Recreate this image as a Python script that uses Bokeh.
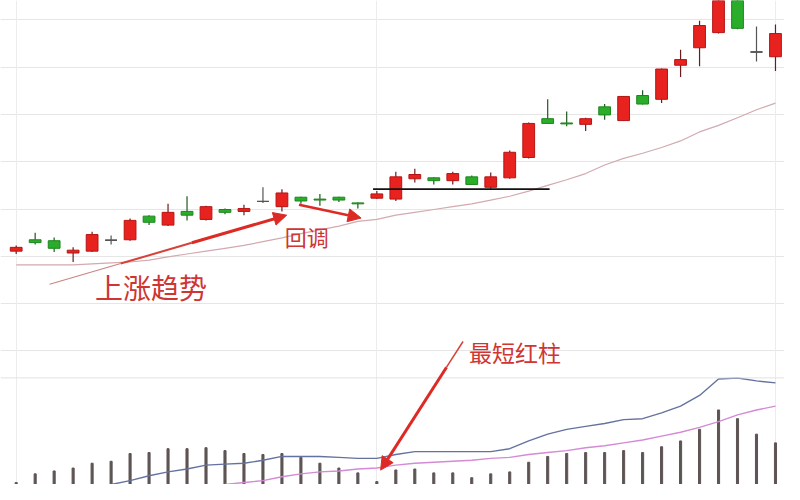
from bokeh.plotting import figure
from bokeh.models import Range1d, Grid, FixedTicker, Span, Arrow, NormalHead, ColumnDataSource, Label
from bokeh.embed import file_html
from bokeh.resources import INLINE

# ---------------- data ----------------
day = list(range(41))
opens = [5.11, 5.35, 5.33, 5.07, 5.11, 5.34, 5.35, 5.85, 5.66, 5.95,
         5.78, 5.99, 5.95, 6.16, 6.05, 6.25, 6.21, 6.25, 6.13, 6.23,
         6.21, 6.64, 6.66, 6.60, 6.68, 6.46, 6.66, 7.09, 7.91, 7.82,
         7.79, 8.16, 7.87, 8.40, 8.32, 9.04, 9.41, 9.73, 10.92, 9.32, 9.22]
highs = [5.23, 5.50, 5.40, 5.19, 5.52, 5.44, 5.80, 5.87, 6.11, 6.27,
         6.07, 6.01, 6.09, 6.46, 6.42, 6.26, 6.32, 6.26, 6.14, 6.38,
         6.79, 6.85, 6.67, 6.79, 6.71, 6.77, 7.24, 7.83, 8.32, 8.06,
         7.93, 8.22, 8.39, 8.51, 8.97, 9.37, 9.98, 11.12, 11.02, 9.86, 9.90]
lows = [5.05, 5.25, 5.09, 4.88, 5.09, 5.25, 5.33, 5.66, 5.64, 5.76,
        5.76, 5.89, 5.87, 6.13, 5.95, 6.11, 6.07, 6.15, 6.01, 6.21,
        6.17, 6.56, 6.52, 6.52, 6.51, 6.42, 6.64, 7.07, 7.80, 7.75,
        7.65, 7.89, 7.86, 8.21, 8.24, 8.79, 9.02, 9.71, 9.80, 9.12, 8.92]
closes = [5.19, 5.29, 5.17, 5.13, 5.46, 5.34, 5.76, 5.72, 5.93, 5.87,
          6.05, 5.93, 6.01, 6.16, 6.34, 6.17, 6.19, 6.19, 6.11, 6.32,
          6.68, 6.73, 6.60, 6.75, 6.52, 6.68, 7.20, 7.81, 7.81, 7.80,
          7.91, 7.99, 8.38, 8.22, 8.96, 9.16, 9.88, 11.02, 9.82, 9.32, 9.71]
ma_price = [4.82, 4.82, 4.82, 4.82, 4.84, 4.86, 4.88, 4.92, 4.99, 5.05,
            5.11, 5.17, 5.23, 5.31, 5.39, 5.48, 5.56, 5.64, 5.74, 5.78,
            5.87, 5.93, 5.99, 6.05, 6.11, 6.19, 6.27, 6.38, 6.50, 6.62,
            6.75, 6.93, 7.07, 7.18, 7.30, 7.44, 7.63, 7.77, 7.93, 8.10, 8.24]
volume = [20, 110, 140, 170, 220, 240, 320, 330, 370, 370,
          380, 350, 320, 310, 320, 280, 220, 170, 120, 30,
          150, 160, 120, 120, 70, 110, 130, 230, 290, 320,
          330, 330, 350, 330, 390, 450, 570, 770, 680, 520, 430]
nan = float("nan")
vol_fast = [nan, nan, nan, nan, nan, 0, 40, 90, 130, 160,
            200, 210, 220, 250, 290, 290, 290, 280, 270, 270,
            310, 340, 340, 340, 340, 340, 370, 450, 520, 570,
            600, 630, 670, 680, 740, 810, 920, 1090, 1100, 1070, 1050]
vol_slow = [nan, nan, nan, nan, nan, nan, nan, nan, nan, nan,
            nan, 0, 20, 40, 80, 110, 130, 140, 160, 170,
            200, 220, 230, 240, 250, 270, 280, 310, 330, 350,
            380, 400, 430, 460, 500, 540, 590, 650, 720, 770, 810]
support_x = [18.8, 28.1]
support_level = 6.42
price_grid = [3, 4, 5, 6, 7, 8, 9, 10]
day_grid = [0, 19, 40]

RED = "#e8231f"
GREEN = "#2aad2a"
TXT = "#cf3532"
ARROW = "#dd2a24"

fill, edge, wick, top, bottom = [], [], [], [], []
for o, c in zip(opens, closes):
    if c > o:
        fill.append(RED); edge.append("#b51414"); wick.append("#6a1c1c")
    elif c < o:
        fill.append(GREEN); edge.append("#1c861c"); wick.append("#1f5a1f")
    else:
        fill.append("#555555"); edge.append("#555555"); wick.append("#555555")
    top.append(max(o, c)); bottom.append(min(o, c))

src = ColumnDataSource(dict(x=day, o=opens, h=highs, l=lows, c=closes,
                            top=top, bottom=bottom, fill=fill, edge=edge, wick=wick,
                            ma=ma_price, vol=volume, vf=vol_fast, vs=vol_slow))
doji = [i for i in day if opens[i] == closes[i]]
doji_src = ColumnDataSource(dict(x0=[i - 0.31 for i in doji], x1=[i + 0.31 for i in doji],
                                 y=[opens[i] for i in doji]))

p = figure(width=784, height=484, output_backend="svg", toolbar_location=None,
           x_range=Range1d(-0.826, 40.475), y_range=Range1d(0.176, 10.409),
           x_axis_type=None, y_axis_type=None, min_border=0,
           background_fill_color="white", border_fill_color="white")
p.outline_line_color = None
p.extra_y_ranges = {"vol": Range1d(0, 5000)}

p.add_layout(Grid(dimension=1, ticker=FixedTicker(ticks=price_grid),
                  grid_line_color="#e6e6e6", grid_line_width=1))
p.add_layout(Grid(dimension=0, ticker=FixedTicker(ticks=day_grid),
                  grid_line_color="#ececec", grid_line_width=1))
p.add_layout(Span(location=2.43, dimension="width", line_color="#e2e2e2", line_width=1))

# volume panel
p.vbar(x="x", top="vol", bottom=0, width=0.11, color="#5e5454", source=src, y_range_name="vol")
p.line("x", "vf", source=src, y_range_name="vol", line_color="#64729f", line_width=1.4)
p.line("x", "vs", source=src, y_range_name="vol", line_color="#d48ad4", line_width=1.4)

# price panel
p.line("x", "ma", source=src, line_color="#d2aab0", line_width=1.2)
p.segment(x0="x", x1="x", y0="h", y1="l", line_color="wick", line_width=1.2, source=src)
p.vbar(x="x", top="top", bottom="bottom", width=0.62, fill_color="fill",
       line_color="edge", line_width=1, source=src)
p.segment(x0="x0", x1="x1", y0="y", y1="y", line_color="#555555", line_width=1.3, source=doji_src)
p.line(support_x, [support_level, support_level], line_color="#111111", line_width=1.6)

# annotations: hand-drawn arrows, tapered from a thin tail to a thick head
arrows = [(1.76, 4.41, 14.25, 5.87), (14.9, 6.09, 18.17, 5.81), (23.54, 3.20, 19.2, 0.48)]
stages = [
    [(0.0, 0.3, 1.2, "#c98482"), (0.3, 0.6, 2.0, "#d8403b"), (0.6, 1.0, 3.0, ARROW)],
    [(0.0, 1.0, 2.5, ARROW)],
    [(0.0, 0.2, 1.5, "#d8403b"), (0.2, 1.0, 3.0, ARROW)],
]
for (xs, ys, xe, ye), st in zip(arrows, stages):
    for f0, f1, lw, col in st:
        head = NormalHead(size=13, fill_color=ARROW, line_color=ARROW) if f1 == 1.0 else None
        p.add_layout(Arrow(end=head,
                           x_start=xs + (xe - xs) * f0, y_start=ys + (ye - ys) * f0,
                           x_end=xs + (xe - xs) * f1, y_end=ys + (ye - ys) * f1,
                           line_color=col, line_width=lw))

for tx, ty, t, fs in [(4.15, 4.35, "上涨趋势", "28px"), (14.15, 5.43, "回调", "22px"),
                      (23.85, 2.98, "最短红柱", "23px")]:
    p.add_layout(Label(x=tx, y=ty, text=t, text_font="Noto Sans CJK SC", text_font_size=fs,
                       text_color=TXT, text_align="left", text_baseline="middle"))

open("out.html", "w").write(file_html(p, INLINE))
